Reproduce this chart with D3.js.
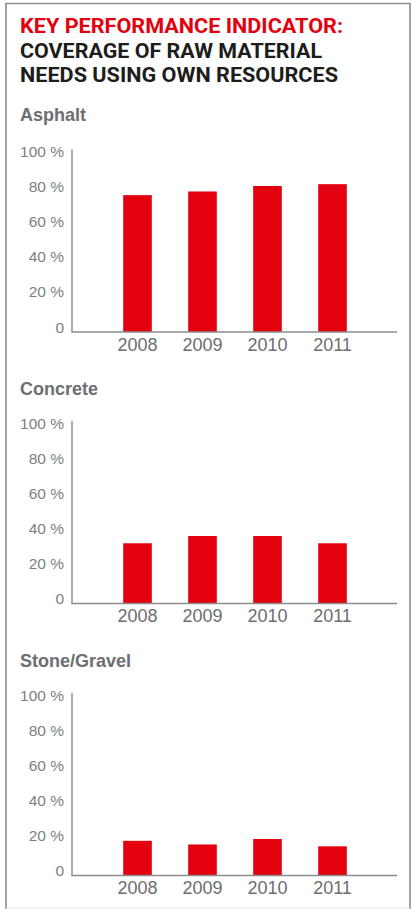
<!DOCTYPE html>
<html>
<head>
<meta charset="utf-8">
<script src="https://cdn.jsdelivr.net/npm/d3@7"></script>
<style>
  body { margin: 0; background: #fff; }
  .titulo { font-family: Roboto, "Liberation Sans", sans-serif; font-weight: 700; font-size: 21px; }
  .subtitulo { font-family: "Liberation Sans", Arial, sans-serif; font-weight: 700; font-size: 18px; fill: #6d6e71; }
  .eje text { font-family: "Liberation Sans", Arial, sans-serif; fill: #7d7f82; }
  .eje path { display: none; }
</style>
</head>
<body>
<div id="chart-area"></div>
<script>
// Datos
var years = ["2008", "2009", "2010", "2011"];
var asphalt = [75, 77, 80, 81];
var concrete = [33, 37, 37, 33];
var stoneGravel = [19, 17, 20, 16];
var panelNames = ["Asphalt", "Concrete", "Stone/Gravel"];
var panelValues = [asphalt, concrete, stoneGravel];
var yTicks = [0, 20, 40, 60, 80, 100];
var titleLines = ["KEY PERFORMANCE INDICATOR:", "COVERAGE OF RAW MATERIAL", "NEEDS USING OWN RESOURCES"];

var width = 412, height = 909;
var rojo = "#e3000f";
var gris = "#8a8c8e";

var svg = d3.select("#chart-area")
    .append("svg")
    .attr("width", width)
    .attr("height", height);

// Marco
svg.append("path")
    .attr("d", "M6,909 V3.5 H410 V909")
    .attr("fill", "none")
    .attr("stroke", "#8d8d8d")
    .attr("stroke-width", 1.6);
svg.append("line")
    .attr("x1", 6).attr("x2", 410)
    .attr("y1", 908).attr("y2", 908)
    .attr("stroke", "#e6e6e6")
    .attr("stroke-width", 1);

// Titulo
var titleWidths = [323, 302, 318];
svg.selectAll(".titulo")
    .data(titleLines)
    .enter()
    .append("text")
    .classed("titulo", true)
    .attr("x", 20)
    .attr("y", function(d, i){ return 33 + i * 24.7; })
    .attr("fill", function(d, i){ return i === 0 ? rojo : "#1d1d1b"; })
    .attr("textLength", function(d, i){ return titleWidths[i]; })
    .attr("lengthAdjust", "spacingAndGlyphs")
    .text(function(d){ return d; });

// Escalas comunes
var h = 182.5;
var axisLeftX = 72, axisRightX = 397;
var panelTops = [149.5, 421, 693];

var xScale = d3.scaleBand()
    .domain(years)
    .range([105, 365])
    .paddingInner(0.56)
    .paddingOuter(0.28);

var yScale = d3.scaleLinear()
    .domain([0, 100])
    .range([h, 0]);

// las etiquetas del eje no caen justo sobre su valor en el original
var yLabel = d3.scaleLinear()
    .domain([0, 100])
    .range([h, 7.4]);

panelNames.forEach(function(name, p){
    var g = svg.append("g")
        .attr("transform", "translate(0," + panelTops[p] + ")");

    g.append("text")
        .classed("subtitulo", true)
        .attr("x", 20)
        .attr("y", p === 0 ? -28.5 : -26)
        .text(name);

    // Barras
    g.selectAll("rect")
        .data(panelValues[p])
        .enter()
        .append("rect")
        .attr("x", function(d, i){ return xScale(years[i]); })
        .attr("y", function(d){ return yScale(d); })
        .attr("width", xScale.bandwidth())
        .attr("height", function(d){ return h - yScale(d); })
        .attr("fill", rojo);

    // Eje Y
    var leftAxis = d3.axisLeft(yLabel)
        .tickValues(yTicks)
        .tickSize(0)
        .tickPadding(8)
        .tickFormat(function(d){ return d === 0 ? "0" : d + " %"; });
    var gy = g.append("g")
        .attr("class", "eje")
        .attr("transform", "translate(" + axisLeftX + ",0)")
        .call(leftAxis);
    gy.selectAll("text").attr("dy", 0).style("font-size", "15.5px");

    // Eje X
    var bottomAxis = d3.axisBottom(xScale)
        .tickSize(0)
        .tickPadding(6);
    var gx = g.append("g")
        .attr("class", "eje")
        .attr("transform", "translate(0," + h + ")")
        .call(bottomAxis);
    gx.selectAll("text").style("font-size", "18px").style("fill", "#6d6e71");

    // Lineas de los ejes
    g.append("line")
        .attr("x1", axisLeftX).attr("x2", axisLeftX)
        .attr("y1", yScale(100)).attr("y2", yScale(0))
        .attr("stroke", gris).attr("stroke-width", 1.4);
    g.append("line")
        .attr("x1", axisLeftX - 0.7).attr("x2", axisRightX)
        .attr("y1", yScale(0)).attr("y2", yScale(0))
        .attr("stroke", gris).attr("stroke-width", 1.4);
});
</script>
</body>
</html>
